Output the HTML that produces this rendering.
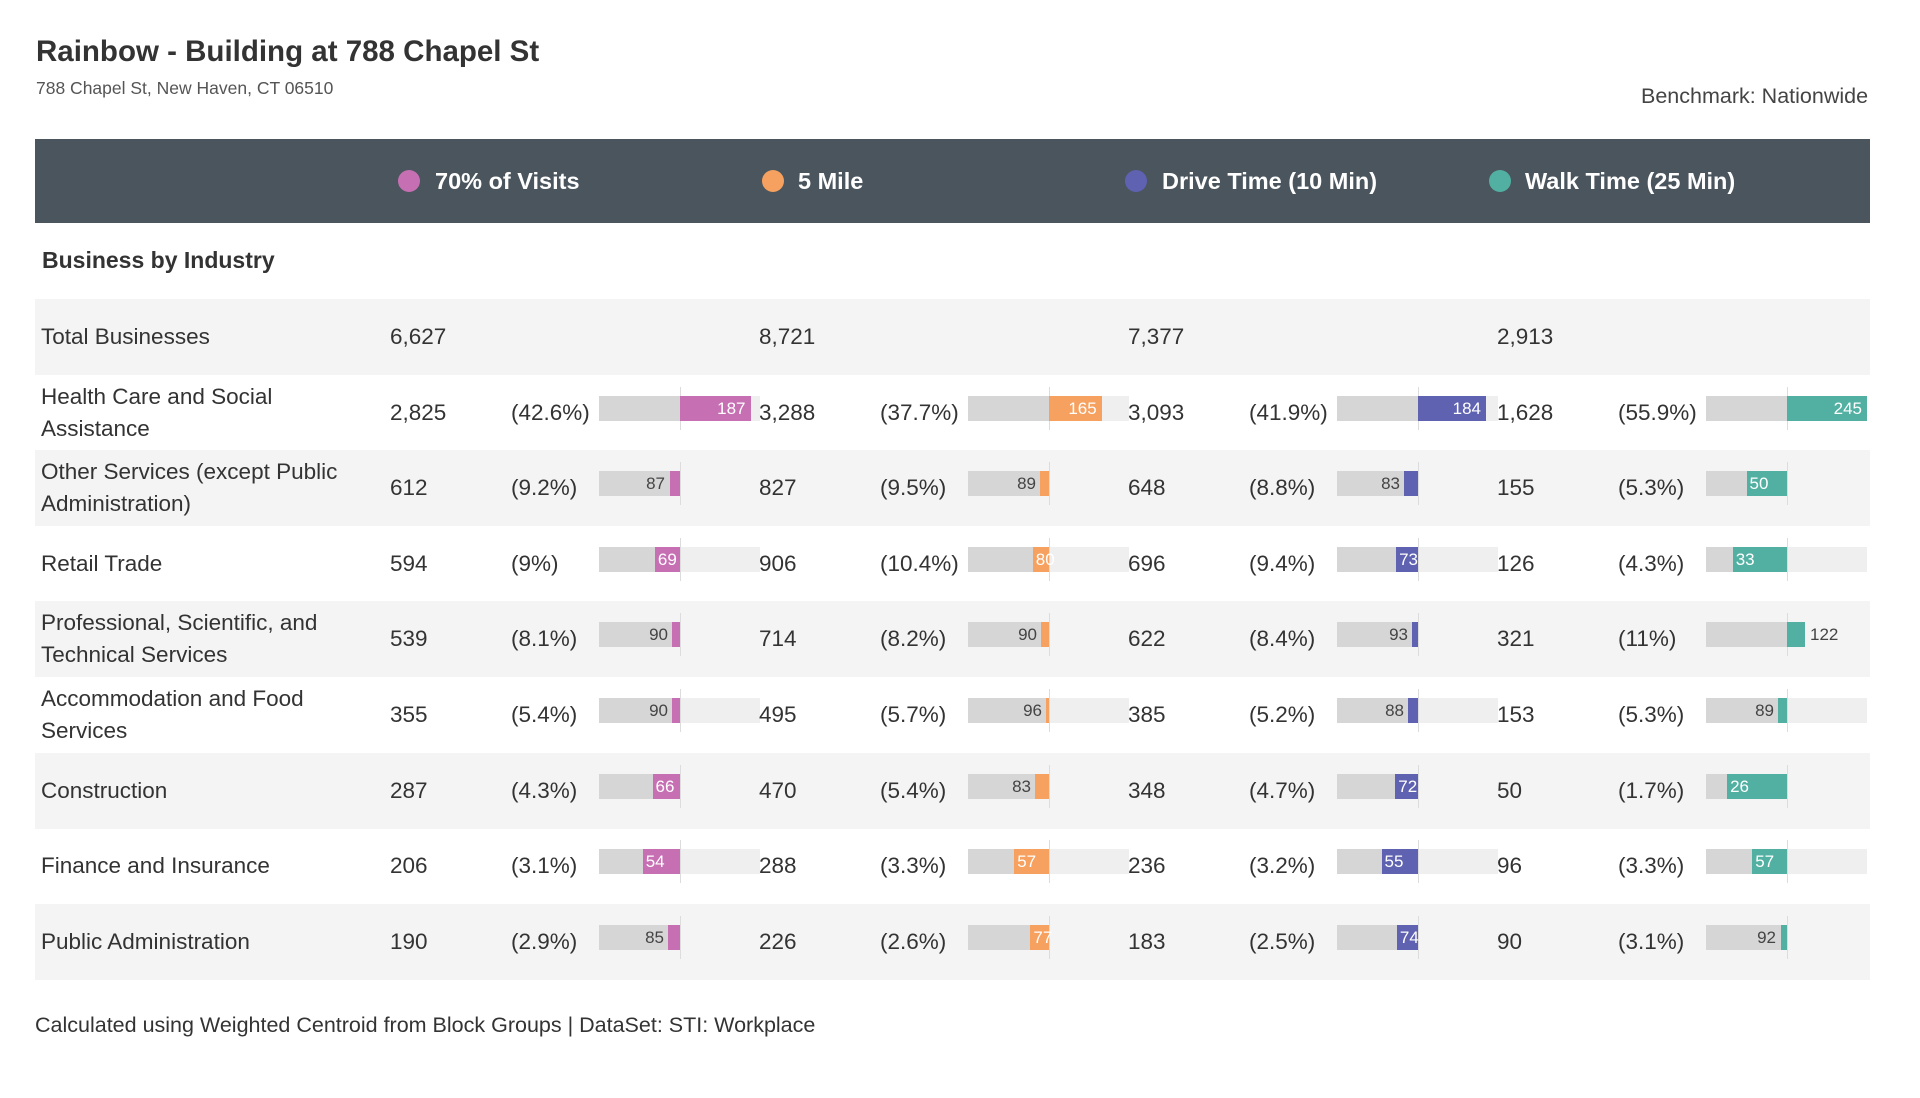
<!DOCTYPE html>
<html><head><meta charset="utf-8"><style>
body{margin:0;width:1920px;height:1098px;background:#fff;font-family:"Liberation Sans",sans-serif;color:#333;position:relative;overflow:hidden}
.a{position:absolute;white-space:nowrap}
.hdr{position:absolute;left:35px;top:139px;width:1835px;height:84px;background:#4a555e}
.lg{position:absolute;top:0;line-height:84px;color:#fff;font-weight:bold;font-size:23.5px}
.dot{position:absolute;top:31px;width:22px;height:22px;border-radius:50%}
.row{position:absolute;left:35px;width:1835px;height:76px;font-size:22.5px}
.g{background:#f4f4f4}
.row .t{position:absolute;left:6px;top:0;line-height:76px;white-space:nowrap}
.row .t2{position:absolute;left:6px;top:6px;line-height:32px;white-space:nowrap}
.row .v{position:absolute;top:0;line-height:76px}
.bar{position:absolute;top:21px;width:161px;height:25px;background:linear-gradient(90deg,#d6d6d6 81px,#efefef 81px)}
.g .bar{background:linear-gradient(90deg,#d6d6d6 81px,#f4f4f4 81px)}
.bar::before{content:"";position:absolute;left:81px;top:-9px;width:1px;height:43px;background:#dcdcdc}
.bar i{position:absolute;top:0;height:25px;font-style:normal;font-size:17px;line-height:25px;color:#fff;white-space:nowrap;box-sizing:border-box}
.bar i.r{text-align:right;padding-right:5px}
.bar i.l{padding-left:3px}
.bar span{position:absolute;top:0;line-height:25px;font-size:17px;color:#444}
.P{background:#c76fb3}.O{background:#f6a15f}.B{background:#5f62b1}.T{background:#52b0a2}
</style></head><body>
<div class="a" style="left:36px;top:35px;font-size:29.5px;font-weight:bold;color:#333">Rainbow - Building at 788 Chapel St</div>
<div class="a" style="left:36px;top:78px;font-size:17.5px;color:#555">788 Chapel St, New Haven, CT 06510</div>
<div class="a" style="left:1641px;top:84px;font-size:21.5px;color:#444">Benchmark: Nationwide</div>
<div class="hdr">
<div class="dot P" style="left:363px"></div><div class="lg" style="left:400px">70% of Visits</div>
<div class="dot O" style="left:727px"></div><div class="lg" style="left:763px">5 Mile</div>
<div class="dot B" style="left:1090px"></div><div class="lg" style="left:1127px">Drive Time (10 Min)</div>
<div class="dot T" style="left:1454px"></div><div class="lg" style="left:1490px">Walk Time (25 Min)</div>
</div>
<div class="a" style="left:42px;top:247px;font-size:23px;font-weight:bold">Business by Industry</div>

<div class="row g" style="top:299px"><div class="t">Total Businesses</div>
<div class="v" style="left:355px">6,627</div><div class="v" style="left:724px">8,721</div><div class="v" style="left:1093px">7,377</div><div class="v" style="left:1462px">2,913</div></div>

<div class="row" style="top:375px"><div class="t2">Health Care and Social<br>Assistance</div>
<div class="v" style="left:355px">2,825</div><div class="v" style="left:476px">(42.6%)</div><div class="bar" style="left:564px"><i class="P r" style="left:81px;width:70.5px">187</i></div>
<div class="v" style="left:724px">3,288</div><div class="v" style="left:845px">(37.7%)</div><div class="bar" style="left:933px"><i class="O r" style="left:81px;width:52.7px">165</i></div>
<div class="v" style="left:1093px">3,093</div><div class="v" style="left:1214px">(41.9%)</div><div class="bar" style="left:1302px"><i class="B r" style="left:81px;width:68px">184</i></div>
<div class="v" style="left:1462px">1,628</div><div class="v" style="left:1583px">(55.9%)</div><div class="bar" style="left:1671px"><i class="T r" style="left:81px;width:80px">245</i></div></div>

<div class="row g" style="top:450px"><div class="t2">Other Services (except Public<br>Administration)</div>
<div class="v" style="left:355px">612</div><div class="v" style="left:476px">(9.2%)</div><div class="bar" style="left:564px"><i class="P" style="left:70.5px;width:10.5px"></i><span style="right:95px">87</span></div>
<div class="v" style="left:724px">827</div><div class="v" style="left:845px">(9.5%)</div><div class="bar" style="left:933px"><i class="O" style="left:72.1px;width:8.9px"></i><span style="right:93px">89</span></div>
<div class="v" style="left:1093px">648</div><div class="v" style="left:1214px">(8.8%)</div><div class="bar" style="left:1302px"><i class="B" style="left:67.2px;width:13.8px"></i><span style="right:98px">83</span></div>
<div class="v" style="left:1462px">155</div><div class="v" style="left:1583px">(5.3%)</div><div class="bar" style="left:1671px"><i class="T l" style="left:40.5px;width:40.5px">50</i></div></div>

<div class="row" style="top:526px"><div class="t">Retail Trade</div>
<div class="v" style="left:355px">594</div><div class="v" style="left:476px">(9%)</div><div class="bar" style="left:564px"><i class="P l" style="left:55.9px;width:25.1px">69</i></div>
<div class="v" style="left:724px">906</div><div class="v" style="left:845px">(10.4%)</div><div class="bar" style="left:933px"><i class="O l" style="left:64.8px;width:16.2px">80</i></div>
<div class="v" style="left:1093px">696</div><div class="v" style="left:1214px">(9.4%)</div><div class="bar" style="left:1302px"><i class="B l" style="left:59.1px;width:21.9px">73</i></div>
<div class="v" style="left:1462px">126</div><div class="v" style="left:1583px">(4.3%)</div><div class="bar" style="left:1671px"><i class="T l" style="left:26.7px;width:54.3px">33</i></div></div>

<div class="row g" style="top:601px"><div class="t2">Professional, Scientific, and<br>Technical Services</div>
<div class="v" style="left:355px">539</div><div class="v" style="left:476px">(8.1%)</div><div class="bar" style="left:564px"><i class="P" style="left:72.9px;width:8.1px"></i><span style="right:92px">90</span></div>
<div class="v" style="left:724px">714</div><div class="v" style="left:845px">(8.2%)</div><div class="bar" style="left:933px"><i class="O" style="left:72.9px;width:8.1px"></i><span style="right:92px">90</span></div>
<div class="v" style="left:1093px">622</div><div class="v" style="left:1214px">(8.4%)</div><div class="bar" style="left:1302px"><i class="B" style="left:75.3px;width:5.7px"></i><span style="right:90px">93</span></div>
<div class="v" style="left:1462px">321</div><div class="v" style="left:1583px">(11%)</div><div class="bar" style="left:1671px"><i class="T" style="left:81px;width:17.8px"></i><span style="left:104px">122</span></div></div>

<div class="row" style="top:677px"><div class="t2">Accommodation and Food<br>Services</div>
<div class="v" style="left:355px">355</div><div class="v" style="left:476px">(5.4%)</div><div class="bar" style="left:564px"><i class="P" style="left:72.9px;width:8.1px"></i><span style="right:92px">90</span></div>
<div class="v" style="left:724px">495</div><div class="v" style="left:845px">(5.7%)</div><div class="bar" style="left:933px"><i class="O" style="left:77.8px;width:3.2px"></i><span style="right:87px">96</span></div>
<div class="v" style="left:1093px">385</div><div class="v" style="left:1214px">(5.2%)</div><div class="bar" style="left:1302px"><i class="B" style="left:71.3px;width:9.7px"></i><span style="right:94px">88</span></div>
<div class="v" style="left:1462px">153</div><div class="v" style="left:1583px">(5.3%)</div><div class="bar" style="left:1671px"><i class="T" style="left:72.1px;width:8.9px"></i><span style="right:93px">89</span></div></div>

<div class="row g" style="top:753px"><div class="t">Construction</div>
<div class="v" style="left:355px">287</div><div class="v" style="left:476px">(4.3%)</div><div class="bar" style="left:564px"><i class="P l" style="left:53.5px;width:27.5px">66</i></div>
<div class="v" style="left:724px">470</div><div class="v" style="left:845px">(5.4%)</div><div class="bar" style="left:933px"><i class="O" style="left:67.2px;width:13.8px"></i><span style="right:98px">83</span></div>
<div class="v" style="left:1093px">348</div><div class="v" style="left:1214px">(4.7%)</div><div class="bar" style="left:1302px"><i class="B l" style="left:58.3px;width:22.7px">72</i></div>
<div class="v" style="left:1462px">50</div><div class="v" style="left:1583px">(1.7%)</div><div class="bar" style="left:1671px"><i class="T l" style="left:21.1px;width:59.9px">26</i></div></div>

<div class="row" style="top:828px"><div class="t">Finance and Insurance</div>
<div class="v" style="left:355px">206</div><div class="v" style="left:476px">(3.1%)</div><div class="bar" style="left:564px"><i class="P l" style="left:43.7px;width:37.3px">54</i></div>
<div class="v" style="left:724px">288</div><div class="v" style="left:845px">(3.3%)</div><div class="bar" style="left:933px"><i class="O l" style="left:46.2px;width:34.8px">57</i></div>
<div class="v" style="left:1093px">236</div><div class="v" style="left:1214px">(3.2%)</div><div class="bar" style="left:1302px"><i class="B l" style="left:44.5px;width:36.5px">55</i></div>
<div class="v" style="left:1462px">96</div><div class="v" style="left:1583px">(3.3%)</div><div class="bar" style="left:1671px"><i class="T l" style="left:46.2px;width:34.8px">57</i></div></div>

<div class="row g" style="top:904px"><div class="t">Public Administration</div>
<div class="v" style="left:355px">190</div><div class="v" style="left:476px">(2.9%)</div><div class="bar" style="left:564px"><i class="P" style="left:68.8px;width:12.2px"></i><span style="right:96px">85</span></div>
<div class="v" style="left:724px">226</div><div class="v" style="left:845px">(2.6%)</div><div class="bar" style="left:933px"><i class="O l" style="left:62.4px;width:18.6px">77</i></div>
<div class="v" style="left:1093px">183</div><div class="v" style="left:1214px">(2.5%)</div><div class="bar" style="left:1302px"><i class="B l" style="left:59.9px;width:21.1px">74</i></div>
<div class="v" style="left:1462px">90</div><div class="v" style="left:1583px">(3.1%)</div><div class="bar" style="left:1671px"><i class="T" style="left:74.5px;width:6.5px"></i><span style="right:91px">92</span></div></div>

<div class="a" style="left:35px;top:1013px;font-size:21.5px;color:#333">Calculated using Weighted Centroid from Block Groups | DataSet: STI: Workplace</div>
</body></html>
